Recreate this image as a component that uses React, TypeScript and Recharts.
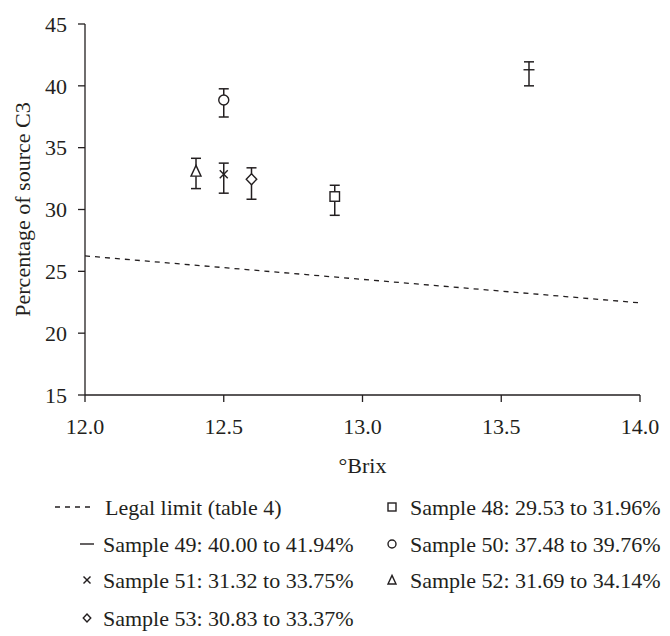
import { ErrorBar, Label, Scatter, ScatterChart, XAxis, YAxis } from "recharts";

// samples, in legend order
const sampleNames = ["Sample 48", "Sample 49", "Sample 50", "Sample 51", "Sample 52", "Sample 53"];
const sampleBrix = [12.9, 13.6, 12.5, 12.5, 12.4, 12.6];
const sampleCentre = [31.05, 41.3, 38.85, 32.85, 33.1, 32.45];
const rangeLow = [29.53, 40.0, 37.48, 31.32, 31.69, 30.83];
const rangeHigh = [31.96, 41.94, 39.76, 33.75, 34.14, 33.37];
const markerKinds = ["square", "dash", "circle", "cross", "triangle", "diamond"];

// legal limit (table 4)
const limitLabel = "Legal limit (table 4)";
const limitBrix = [12.0, 14.0];
const limitPercent = [26.25, 22.45];

const xTicks = [12.0, 12.5, 13.0, 13.5, 14.0];
const yTicks = [15, 20, 25, 30, 35, 40, 45];

const INK = "#231f20";
const FONT = "Liberation Serif";
const FS = 22;

function Marker({ kind, cx, cy, s }: { kind: string; cx: number; cy: number; s: number }) {
  const line = { stroke: INK, strokeWidth: 1.4 };
  const shape = { ...line, fill: "#fff" };
  const h = s / 2;
  switch (kind) {
    case "square":
      return <rect x={cx - h} y={cy - h} width={s} height={s} {...shape} />;
    case "circle":
      return <circle cx={cx} cy={cy} r={h} {...shape} />;
    case "triangle":
      return (
        <polygon
          points={`${cx},${cy - s * 0.58} ${cx + h},${cy + s * 0.5} ${cx - h},${cy + s * 0.5}`}
          {...shape}
        />
      );
    case "diamond":
      return (
        <polygon
          points={`${cx},${cy - h * 1.05} ${cx + h},${cy} ${cx},${cy + h * 1.05} ${cx - h},${cy}`}
          {...shape}
        />
      );
    case "cross":
      return (
        <g {...line}>
          <line x1={cx - h} y1={cy - h} x2={cx + h} y2={cy + h} />
          <line x1={cx - h} y1={cy + h} x2={cx + h} y2={cy - h} />
        </g>
      );
    case "dash":
      return <line x1={cx - h} y1={cy} x2={cx + h} y2={cy} {...line} />;
    default:
      return <g />;
  }
}

const plotSize: Record<string, number> = {
  square: 9.5,
  circle: 10,
  triangle: 10,
  diamond: 10.5,
  cross: 8,
  dash: 11,
};

const legendSize: Record<string, number> = {
  square: 8,
  circle: 8,
  triangle: 8,
  diamond: 7.5,
  cross: 7,
  dash: 14,
};

// legend under the plot, two entries per row
function ChartLegend() {
  const entries = [
    { label: limitLabel, kind: "limit" },
    ...sampleNames.map((n, i) => ({
      label: `${n}: ${rangeLow[i].toFixed(2)} to ${rangeHigh[i].toFixed(2)}%`,
      kind: markerKinds[i],
    })),
  ];
  const baselines = [515, 552, 588, 626];
  const cols = [
    { sym: 87, text: 103 },
    { sym: 392, text: 410 },
  ];
  return (
    <svg
      width={670}
      height={636}
      style={{ position: "absolute", left: 0, top: 0, pointerEvents: "none" }}
    >
      {entries.map((e, i) => {
        const col = cols[i % 2];
        const base = baselines[Math.floor(i / 2)];
        const cy = base - 8;
        return (
          <g key={e.label}>
            {e.kind === "limit" ? (
              <line
                x1={55}
                y1={cy}
                x2={93}
                y2={cy}
                stroke={INK}
                strokeWidth={1.3}
                strokeDasharray="5 5"
              />
            ) : (
              <Marker kind={e.kind} cx={col.sym} cy={cy} s={legendSize[e.kind]} />
            )}
            <text
              x={e.kind === "limit" ? 105 : col.text}
              y={base}
              fill={INK}
              fontSize={FS}
              fontFamily={FONT}
            >
              {e.label}
            </text>
          </g>
        );
      })}
    </svg>
  );
}

export default function App() {
  const limitRows = limitBrix.map((x, i) => ({ x, y: limitPercent[i] }));
  const tick = { fill: INK, fontSize: FS, fontFamily: FONT };
  const axisStroke = { stroke: INK, strokeWidth: 1.3 };

  return (
    <div
      style={{
        position: "absolute",
        left: 0,
        top: 0,
        width: 670,
        height: 636,
        background: "#fff",
        fontFamily: FONT,
      }}
    >
      <style>{`#root, #root * { font-family: "Liberation Serif", "Times New Roman", serif !important; }`}</style>
      <ScatterChart
        width={670}
        height={636}
        margin={{ top: 24, right: 30, left: 0, bottom: 181 }}
      >
        <XAxis
          type="number"
          dataKey="x"
          domain={[12, 14]}
          ticks={xTicks}
          interval={0}
          tickFormatter={(v: number) => v.toFixed(1)}
          tickSize={7}
          tickMargin={16}
          height={60}
          axisLine={axisStroke}
          tickLine={axisStroke}
          tick={tick}
          allowDataOverflow
        >
          <Label
            content={(p: any) => {
              const vb = p.viewBox ?? { x: 85, y: 395, width: 555, height: 60 };
              return (
                <text
                  x={vb.x + vb.width / 2}
                  y={vb.y + 78}
                  textAnchor="middle"
                  fill={INK}
                  fontSize={FS}
                  fontFamily={FONT}
                >
                  °Brix
                </text>
              );
            }}
          />
        </XAxis>
        <YAxis
          type="number"
          dataKey="y"
          domain={[15, 45]}
          ticks={yTicks}
          interval={0}
          width={85}
          tickSize={7}
          tickMargin={11}
          axisLine={axisStroke}
          tickLine={axisStroke}
          tick={tick}
          allowDataOverflow
        >
          <Label
            content={(p: any) => {
              const vb = p.viewBox ?? { x: 0, y: 24, width: 85, height: 371 };
              const x = vb.x + 30;
              const y = vb.y + vb.height / 2;
              return (
                <text
                  x={x}
                  y={y}
                  transform={`rotate(-90 ${x} ${y})`}
                  textAnchor="middle"
                  fill={INK}
                  fontSize={FS}
                  fontFamily={FONT}
                >
                  Percentage of source C3
                </text>
              );
            }}
          />
        </YAxis>

        <Scatter
          name={limitLabel}
          data={limitRows}
          line={{ stroke: INK, strokeWidth: 1.3, strokeDasharray: "5 5" }}
          shape={() => <g />}
          isAnimationActive={false}
        />

        {sampleNames.map((name, i) => {
          const kind = markerKinds[i];
          const y = sampleCentre[i];
          const rows = [
            { x: sampleBrix[i], y, err: [y - rangeLow[i], rangeHigh[i] - y] },
          ];
          return (
            <Scatter
              key={name}
              name={name}
              data={rows}
              isAnimationActive={false}
              shape={(p: any) => (
                <Marker kind={kind} cx={p.cx} cy={p.cy} s={plotSize[kind]} />
              )}
            >
              <ErrorBar
                dataKey="err"
                direction="y"
                width={5}
                stroke={INK}
                strokeWidth={1.5}
                isAnimationActive={false}
              />
            </Scatter>
          );
        })}
      </ScatterChart>
      <ChartLegend />
    </div>
  );
}
